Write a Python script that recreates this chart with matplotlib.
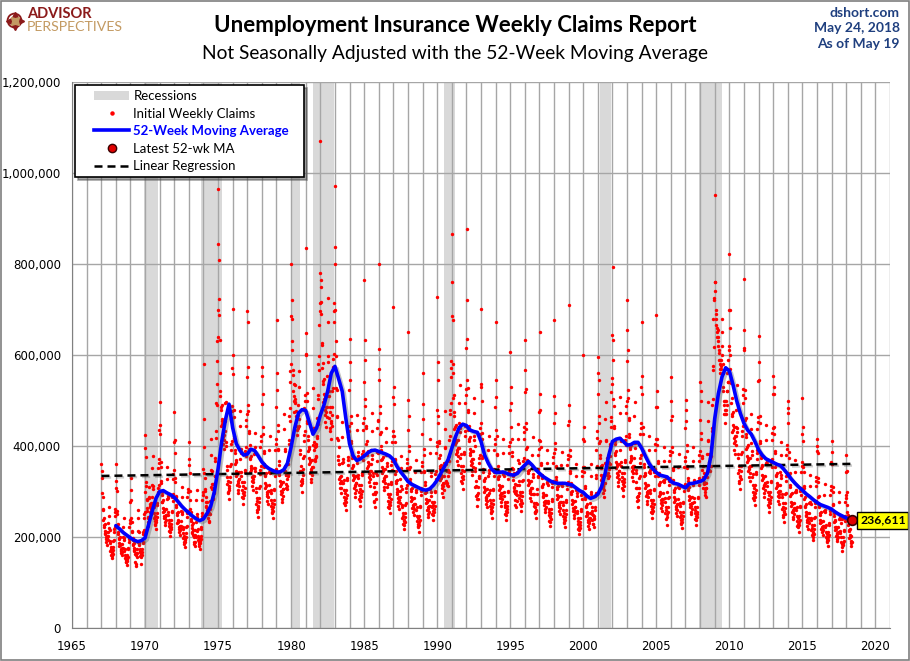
import numpy as np
import pandas as pd
import matplotlib
matplotlib.use('Agg')
import matplotlib.pyplot as plt
import matplotlib.patheffects as pe
from matplotlib.patches import Patch, Rectangle, Circle
from matplotlib.lines import Line2D
from matplotlib.legend_handler import HandlerLine2D, HandlerPatch
from matplotlib.ticker import FuncFormatter, MultipleLocator

# Initial weekly claims, not seasonally adjusted, thousands (one row per year, weeks from early Jan)
first_year = 1967
weekly_claims = [
    # 1967
    [360, 345, 330, 296, 287, 259, 261, 237, 242, 223, 226, 207, 214, 228, 209, 212, 195, 200, 188, 197, 183, 202, 193, 212, 202, 230,
     247, 267, 219, 215, 187, 191, 170, 178, 161, 174, 159, 166, 153, 168, 163, 178, 172, 191, 194, 217, 211, 247, 221, 256, 262, 307],
    # 1968
    [360, 324, 301, 258, 250, 226, 228, 207, 211, 195, 197, 180, 187, 199, 182, 185, 170, 174, 164, 172, 160, 176, 168, 185, 176, 201,
     223, 241, 198, 194, 169, 173, 153, 161, 146, 157, 144, 149, 138, 151, 147, 161, 155, 173, 175, 196, 190, 223, 200, 231, 237, 277],
    # 1969
    [330, 303, 282, 242, 234, 211, 213, 194, 198, 182, 184, 169, 175, 186, 171, 173, 146, 163, 140, 161, 136, 165, 157, 173, 165, 188,
     242, 260, 214, 210, 183, 187, 166, 174, 158, 170, 155, 162, 140, 164, 160, 174, 168, 187, 189, 212, 206, 242, 216, 250, 256, 300],
    # 1970
    [424, 395, 375, 321, 311, 281, 283, 258, 263, 242, 245, 224, 232, 310, 285, 288, 266, 272, 256, 269, 250, 275, 262, 288, 275, 314,
     351, 378, 311, 305, 265, 271, 241, 253, 229, 247, 226, 235, 217, 238, 232, 253, 244, 271, 275, 308, 299, 351, 314, 363, 372, 436],
    # 1971
    [497, 446, 426, 365, 354, 319, 322, 293, 299, 276, 278, 255, 264, 281, 258, 261, 241, 247, 232, 244, 226, 249, 238, 261, 249, 284,
     328, 353, 291, 285, 248, 254, 225, 237, 214, 231, 211, 219, 202, 222, 217, 237, 228, 254, 257, 288, 279, 328, 294, 339, 348, 408],
    # 1972
    [475, 414, 385, 330, 320, 288, 291, 265, 270, 249, 252, 231, 238, 254, 233, 236, 217, 223, 210, 220, 204, 225, 215, 236, 225, 257,
     288, 310, 255, 250, 218, 223, 198, 208, 188, 203, 185, 193, 178, 195, 190, 208, 200, 223, 225, 253, 245, 288, 258, 298, 305, 358],
    # 1973
    [408, 371, 340, 301, 281, 262, 255, 240, 236, 226, 219, 210, 208, 231, 204, 215, 190, 203, 185, 199, 180, 205, 190, 215, 199, 234,
     282, 304, 250, 245, 213, 218, 194, 203, 184, 198, 181, 189, 174, 191, 186, 203, 196, 218, 221, 247, 240, 282, 252, 292, 299, 350],
    # 1974
    [580, 460, 397, 340, 329, 302, 305, 278, 288, 266, 269, 251, 259, 276, 258, 261, 241, 251, 236, 252, 234, 262, 250, 279, 267, 309,
     380, 415, 347, 345, 305, 316, 284, 307, 285, 316, 296, 316, 298, 335, 334, 374, 368, 418, 432, 495, 490, 587, 536, 631, 640, 700],
    # 1975
    [964, 845, 809, 724, 688, 633, 561, 510, 520, 480, 485, 444, 460, 490, 449, 455, 419, 429, 404, 424, 394, 434, 414, 455, 434, 495,
     460, 496, 408, 400, 348, 356, 316, 332, 300, 324, 296, 308, 284, 312, 304, 332, 320, 356, 360, 404, 392, 460, 412, 476, 488, 572],
    # 1976
    [702, 600, 559, 479, 464, 418, 422, 384, 391, 361, 365, 334, 346, 369, 338, 342, 315, 323, 304, 319, 296, 327, 312, 342, 327, 372,
     443, 477, 393, 385, 335, 343, 304, 320, 289, 312, 285, 296, 273, 300, 293, 320, 308, 343, 347, 389, 377, 443, 397, 458, 470, 551],
    # 1977
    [697, 672, 573, 491, 476, 429, 433, 394, 402, 371, 374, 343, 355, 378, 347, 351, 324, 332, 312, 328, 304, 335, 320, 351, 335, 382,
     397, 428, 352, 345, 300, 307, 273, 286, 259, 279, 255, 266, 245, 269, 262, 286, 276, 307, 311, 348, 338, 397, 355, 411, 421, 493],
    # 1978
    [574, 553, 515, 441, 427, 385, 389, 354, 361, 333, 336, 308, 319, 340, 312, 315, 291, 298, 280, 294, 273, 301, 287, 315, 301, 343,
     391, 422, 347, 340, 296, 303, 269, 282, 255, 275, 252, 262, 241, 265, 258, 282, 272, 303, 306, 343, 333, 391, 350, 405, 415, 486],
    # 1979
    [677, 561, 522, 447, 433, 391, 394, 359, 366, 337, 341, 312, 323, 344, 316, 320, 295, 302, 284, 298, 277, 305, 291, 320, 305, 348,
     437, 471, 393, 390, 344, 356, 316, 336, 308, 336, 311, 327, 305, 339, 334, 369, 360, 405, 414, 465, 456, 541, 484, 565, 580, 686],
    # 1980
    [800, 720, 680, 630, 610, 556, 566, 520, 536, 499, 509, 475, 496, 534, 494, 504, 465, 476, 444, 462, 425, 464, 435, 468, 439, 490,
     529, 564, 459, 445, 383, 392, 344, 357, 323, 344, 315, 323, 298, 328, 319, 349, 336, 374, 378, 424, 412, 483, 433, 500, 512, 601],
    # 1981
    [836, 648, 603, 517, 500, 451, 455, 414, 422, 390, 394, 361, 373, 398, 365, 369, 340, 349, 328, 344, 320, 353, 336, 369, 353, 402,
     483, 527, 439, 440, 392, 409, 371, 398, 368, 405, 377, 400, 376, 421, 418, 461, 448, 503, 513, 581, 568, 667, 597, 696, 714, 780],
    # 1982
    [1070, 765, 750, 716, 690, 622, 627, 571, 582, 537, 542, 497, 514, 548, 503, 509, 469, 480, 452, 475, 441, 486, 463, 509, 486, 554,
     673, 725, 597, 585, 509, 521, 462, 486, 439, 474, 433, 450, 415, 456, 445, 486, 468, 521, 527, 591, 573, 673, 603, 696, 714, 837],
    # 1983
    [971, 800, 700, 630, 598, 528, 522, 465, 464, 418, 413, 370, 378, 398, 360, 360, 328, 332, 308, 319, 296, 323, 308, 333, 318, 363,
     420, 453, 372, 365, 318, 325, 288, 303, 274, 296, 270, 281, 259, 285, 277, 303, 292, 325, 329, 369, 358, 420, 376, 434, 445, 522],
    # 1984
    [636, 585, 544, 466, 451, 407, 411, 374, 381, 352, 355, 326, 337, 359, 329, 333, 307, 315, 296, 311, 289, 318, 303, 333, 318, 363,
     435, 469, 386, 378, 329, 336, 299, 314, 284, 306, 280, 291, 268, 295, 287, 314, 302, 336, 340, 382, 370, 435, 389, 450, 461, 541],
    # 1985
    [765, 632, 588, 504, 488, 440, 444, 404, 412, 380, 384, 352, 364, 388, 356, 360, 332, 340, 320, 336, 312, 344, 328, 360, 344, 392,
     432, 472, 380, 372, 333, 340, 295, 318, 280, 310, 276, 295, 265, 298, 283, 318, 298, 340, 336, 386, 366, 440, 385, 455, 458, 545],
    # 1986
    [800, 613, 570, 489, 473, 427, 431, 392, 400, 369, 372, 341, 353, 376, 345, 349, 322, 330, 310, 326, 303, 334, 318, 349, 334, 380,
     408, 440, 362, 355, 309, 316, 280, 295, 266, 288, 263, 273, 252, 277, 270, 295, 284, 316, 320, 359, 348, 408, 366, 422, 433, 508],
    # 1987
    [705, 529, 492, 422, 409, 369, 372, 338, 345, 318, 322, 295, 305, 325, 298, 302, 278, 285, 268, 281, 261, 288, 275, 302, 288, 328,
     351, 378, 311, 305, 265, 271, 241, 253, 229, 247, 226, 235, 217, 238, 232, 253, 244, 271, 275, 308, 299, 351, 314, 363, 372, 436],
    # 1988
    [650, 502, 467, 401, 388, 350, 353, 321, 328, 302, 305, 280, 289, 308, 283, 286, 264, 270, 254, 267, 248, 273, 261, 286, 273, 312,
     343, 370, 304, 298, 259, 265, 235, 247, 224, 241, 221, 229, 212, 232, 226, 247, 238, 265, 268, 301, 292, 343, 307, 355, 364, 426],
    # 1989
    [560, 493, 459, 393, 381, 343, 346, 315, 321, 296, 300, 275, 284, 303, 278, 281, 259, 265, 250, 262, 243, 268, 256, 281, 268, 306,
     385, 415, 342, 335, 291, 298, 265, 278, 251, 271, 248, 258, 238, 261, 255, 278, 268, 298, 302, 338, 328, 385, 345, 399, 409, 479],
    # 1990
    [728, 585, 544, 466, 451, 407, 411, 374, 381, 352, 355, 326, 337, 359, 329, 333, 307, 315, 296, 311, 289, 318, 303, 333, 318, 363,
     437, 477, 398, 395, 348, 360, 324, 344, 315, 344, 318, 335, 312, 347, 342, 378, 368, 414, 423, 480, 470, 552, 494, 571, 586, 686],
    # 1991
    [867, 760, 676, 580, 561, 506, 511, 465, 474, 437, 442, 405, 419, 446, 409, 414, 382, 391, 368, 386, 359, 396, 377, 414, 396, 451,
     495, 533, 439, 430, 374, 383, 340, 357, 323, 348, 318, 331, 305, 335, 327, 357, 344, 383, 387, 434, 421, 495, 443, 512, 525, 615],
    # 1992
    [877, 720, 635, 544, 527, 475, 480, 436, 445, 410, 415, 380, 393, 419, 384, 389, 359, 367, 346, 363, 337, 372, 354, 389, 372, 423,
     472, 506, 413, 400, 346, 352, 310, 324, 291, 312, 283, 293, 268, 293, 284, 309, 296, 329, 333, 374, 363, 426, 381, 440, 451, 529],
    # 1993
    [701, 537, 500, 428, 415, 374, 377, 343, 350, 323, 326, 299, 309, 330, 303, 306, 282, 289, 272, 286, 265, 292, 279, 306, 292, 333,
     391, 422, 347, 340, 296, 303, 269, 282, 255, 275, 252, 262, 241, 265, 258, 282, 272, 303, 306, 343, 333, 391, 350, 405, 415, 486],
    # 1994
    [672, 545, 507, 435, 421, 380, 383, 348, 355, 328, 331, 304, 314, 335, 307, 311, 286, 293, 276, 290, 269, 297, 283, 311, 297, 338,
     385, 415, 342, 335, 291, 298, 265, 278, 251, 271, 248, 258, 238, 261, 255, 278, 268, 298, 302, 338, 328, 385, 345, 399, 409, 479],
    # 1995
    [607, 530, 495, 441, 415, 386, 377, 352, 349, 333, 325, 309, 308, 340, 301, 316, 281, 297, 271, 294, 265, 301, 279, 315, 292, 342,
     416, 449, 369, 362, 315, 322, 286, 300, 272, 293, 268, 279, 257, 282, 275, 300, 290, 322, 326, 366, 355, 416, 373, 431, 442, 518],
    # 1996
    [633, 566, 526, 451, 437, 394, 397, 362, 369, 340, 344, 315, 326, 347, 319, 322, 297, 304, 286, 301, 279, 308, 294, 322, 308, 351,
     380, 420, 338, 331, 295, 294, 269, 274, 255, 267, 252, 254, 242, 257, 259, 274, 272, 294, 306, 334, 332, 380, 349, 394, 413, 474],
    # 1997
    [650, 515, 479, 411, 398, 359, 362, 329, 336, 310, 313, 287, 297, 316, 290, 293, 271, 277, 261, 274, 254, 280, 267, 293, 280, 319,
     362, 391, 321, 315, 274, 280, 249, 261, 236, 255, 233, 243, 224, 246, 239, 261, 252, 280, 284, 318, 309, 362, 324, 375, 384, 450],
    # 1998
    [676, 509, 473, 406, 393, 354, 357, 325, 332, 306, 309, 283, 293, 312, 287, 290, 267, 274, 258, 270, 251, 277, 264, 290, 277, 316,
     359, 387, 318, 312, 271, 278, 246, 259, 234, 253, 231, 240, 222, 243, 237, 259, 250, 278, 281, 315, 306, 359, 321, 371, 381, 446],
    # 1999
    [709, 490, 456, 391, 378, 341, 344, 313, 319, 295, 298, 273, 282, 301, 276, 279, 257, 264, 248, 260, 242, 267, 254, 279, 267, 304,
     334, 360, 296, 290, 252, 258, 229, 241, 218, 235, 215, 223, 206, 226, 220, 241, 232, 258, 261, 293, 284, 334, 299, 345, 354, 415],
    # 2000
    [601, 442, 412, 353, 342, 308, 311, 283, 288, 266, 269, 246, 255, 272, 249, 252, 232, 238, 224, 235, 218, 241, 230, 252, 241, 274,
     334, 360, 298, 294, 258, 265, 237, 251, 228, 248, 228, 239, 222, 246, 242, 266, 259, 291, 297, 336, 329, 391, 355, 417, 433, 515],
    # 2001
    [596, 560, 544, 466, 451, 407, 411, 374, 381, 352, 355, 326, 337, 359, 329, 333, 307, 315, 296, 311, 289, 318, 303, 333, 318, 363,
     460, 496, 413, 410, 361, 374, 336, 357, 330, 365, 340, 362, 334, 363, 350, 378, 360, 401, 405, 455, 441, 518, 464, 536, 549, 644],
    # 2002
    [794, 632, 588, 504, 488, 440, 444, 404, 412, 380, 384, 352, 364, 388, 356, 360, 332, 340, 320, 336, 312, 344, 328, 360, 344, 392,
     472, 508, 418, 410, 357, 365, 324, 340, 308, 332, 303, 316, 291, 320, 312, 340, 328, 365, 369, 414, 402, 472, 422, 488, 500, 586],
    # 2003
    [721, 656, 610, 523, 506, 457, 461, 419, 427, 394, 398, 365, 378, 403, 369, 374, 344, 353, 332, 349, 324, 357, 340, 374, 357, 407,
     466, 496, 406, 395, 341, 347, 307, 320, 287, 308, 280, 290, 266, 290, 281, 307, 296, 329, 333, 374, 363, 426, 381, 440, 451, 529],
    # 2004
    [673, 553, 515, 441, 427, 385, 389, 354, 361, 333, 336, 308, 319, 340, 312, 315, 291, 298, 280, 294, 273, 301, 287, 315, 301, 343,
     391, 422, 347, 340, 296, 303, 269, 282, 255, 275, 252, 262, 241, 265, 258, 282, 272, 303, 306, 343, 333, 391, 350, 405, 415, 486],
    # 2005
    [689, 521, 485, 416, 403, 363, 366, 333, 340, 314, 317, 290, 300, 320, 294, 297, 274, 281, 264, 277, 257, 284, 271, 297, 284, 323,
     368, 397, 326, 320, 278, 285, 253, 266, 240, 259, 330, 300, 227, 250, 243, 266, 256, 285, 288, 323, 314, 368, 330, 381, 390, 458],
    # 2006
    [551, 499, 465, 398, 386, 348, 351, 319, 325, 300, 303, 278, 288, 307, 281, 284, 262, 269, 253, 265, 246, 272, 259, 284, 272, 310,
     354, 382, 314, 308, 268, 274, 243, 256, 231, 249, 228, 237, 219, 240, 234, 256, 246, 274, 277, 311, 302, 354, 317, 367, 376, 440],
    # 2007
    [501, 480, 455, 403, 390, 352, 355, 323, 330, 304, 307, 282, 291, 310, 285, 288, 266, 272, 256, 269, 250, 275, 262, 288, 275, 314,
     368, 397, 326, 320, 278, 285, 253, 266, 240, 259, 237, 246, 227, 250, 243, 266, 256, 285, 288, 323, 314, 368, 330, 381, 390, 458],
    # 2008
    [541, 520, 500, 428, 415, 374, 377, 348, 355, 328, 331, 308, 319, 340, 316, 320, 299, 306, 292, 307, 289, 318, 308, 342, 331, 382,
     454, 496, 413, 410, 365, 383, 348, 374, 345, 381, 355, 377, 355, 398, 395, 440, 432, 490, 504, 576, 568, 679, 618, 726, 720, 760],
    # 2009
    [951, 760, 740, 700, 690, 680, 665, 650, 640, 660, 640, 630, 620, 655, 610, 605, 590, 590, 570, 580, 560, 570, 575, 590, 600, 620,
     680, 650, 580, 560, 530, 520, 490, 500, 470, 500, 470, 480, 450, 480, 470, 500, 490, 520, 520, 560, 540, 590, 540, 610, 620, 700],
    # 2010
    [821, 700, 660, 600, 570, 539, 544, 495, 505, 466, 470, 431, 446, 475, 436, 441, 407, 417, 392, 412, 382, 421, 402, 441, 421, 480,
     495, 533, 439, 430, 374, 383, 340, 357, 323, 348, 318, 331, 305, 335, 327, 357, 344, 383, 387, 434, 421, 495, 443, 512, 525, 615],
    # 2011
    [768, 656, 610, 523, 506, 457, 461, 419, 427, 394, 398, 365, 378, 403, 369, 374, 344, 353, 332, 349, 324, 357, 340, 374, 357, 407,
     437, 471, 388, 380, 331, 338, 300, 315, 285, 308, 281, 293, 270, 296, 289, 315, 304, 338, 342, 384, 372, 437, 391, 452, 464, 543],
    # 2012
    [642, 585, 544, 466, 451, 407, 411, 374, 381, 352, 355, 326, 337, 359, 329, 333, 307, 315, 296, 311, 289, 318, 303, 333, 318, 363,
     414, 446, 367, 360, 313, 320, 284, 299, 270, 292, 266, 277, 256, 281, 274, 299, 288, 320, 324, 364, 353, 414, 371, 428, 439, 515],
    # 2013
    [554, 530, 515, 441, 427, 385, 389, 354, 361, 333, 336, 308, 319, 340, 312, 315, 291, 298, 280, 294, 273, 301, 287, 315, 301, 343,
     380, 409, 337, 330, 287, 294, 261, 274, 248, 267, 244, 254, 234, 257, 251, 274, 264, 294, 297, 333, 323, 380, 340, 393, 403, 472],
    # 2014
    [500, 483, 450, 386, 373, 337, 340, 309, 315, 291, 294, 269, 278, 297, 272, 275, 254, 260, 245, 257, 239, 263, 251, 275, 263, 300,
     343, 370, 304, 298, 259, 265, 235, 247, 224, 241, 221, 229, 212, 232, 226, 247, 238, 265, 268, 301, 292, 343, 307, 355, 364, 426],
    # 2015
    [505, 442, 412, 353, 342, 308, 311, 283, 288, 266, 269, 246, 255, 272, 249, 252, 232, 238, 224, 235, 218, 241, 230, 252, 241, 274,
     313, 337, 277, 272, 237, 242, 215, 226, 204, 220, 201, 209, 193, 212, 207, 226, 218, 242, 245, 275, 267, 313, 280, 324, 332, 389],
    # 2016
    [415, 400, 385, 330, 320, 288, 291, 265, 270, 249, 252, 231, 238, 254, 233, 236, 217, 223, 210, 220, 204, 225, 215, 236, 225, 257,
     293, 316, 260, 255, 222, 227, 201, 212, 191, 207, 189, 196, 181, 199, 194, 212, 204, 227, 230, 258, 250, 293, 263, 303, 311, 365],
    # 2017
    [410, 387, 360, 309, 299, 270, 272, 247, 252, 233, 235, 216, 223, 238, 218, 221, 203, 208, 196, 206, 191, 211, 201, 221, 211, 240,
     276, 298, 245, 240, 209, 214, 190, 199, 230, 240, 178, 185, 170, 187, 182, 199, 192, 214, 216, 242, 235, 276, 247, 286, 293, 343],
    # 2018 (to May 19)
    [380, 345, 300, 270, 255, 248, 240, 227, 232, 214, 216, 198, 205, 218, 200, 203, 187, 191, 180, 189],
]

# 52-week moving average, thousands, read quarterly from 1968.0
ma_start = 1968.0
ma_values = [
    225, 218, 210, 204,  198, 193, 190, 192,  198, 228, 258, 285,  300, 302, 297, 293,   # 1968-71
    287, 278, 268, 260,  253, 246, 240, 236,  240, 252, 268, 300,  350, 410, 457, 492,   # 1972-75
    440, 405, 390, 380,  382, 393, 390, 378,  365, 356, 350, 346,  343, 343, 348, 362,   # 1976-79
    398, 440, 472, 480,  478, 452, 426, 440,  468, 490, 520, 560,  575, 548, 520, 460,   # 1980-83
    405, 378, 368, 372,  378, 385, 390, 391,  388, 385, 382, 378,  370, 355, 343, 333,   # 1984-87
    322, 316, 312, 308,  304, 303, 306, 314,  325, 340, 355, 370,  395, 420, 440, 448,   # 1988-91
    445, 435, 432, 430,  410, 380, 362, 348,  342, 342, 343, 340,  337, 336, 340, 350,   # 1992-95
    358, 366, 358, 348,  340, 333, 328, 323,  320, 318, 318, 318,  316, 314, 308, 302,   # 1996-99
    298, 290, 285, 288,  294, 310, 340, 380,  410, 415, 417, 410,  402, 403, 408, 408,   # 2000-03
    395, 378, 362, 350,  342, 336, 334, 332,  322, 318, 316, 312,  308, 317, 318, 320,   # 2004-07
    322, 326, 340, 380,  460, 515, 552, 572,  565, 535, 500, 472,  450, 435, 426, 410,   # 2008-11
    392, 380, 372, 368,  364, 360, 357, 348,  338, 327, 318, 310,  303, 295, 289, 282,   # 2012-15
    276, 271, 268, 265,  261, 255, 250, 246,  242, 238,                                  # 2016-18
]
latest_ma = 236611
latest_date = '2018-05-19'

recession_starts = ['1969-12', '1973-11', '1980-01', '1981-07', '1990-07', '2001-03', '2007-12']
recession_ends = ['1970-11', '1975-03', '1980-07', '1982-11', '1991-03', '2001-11', '2009-06']


def toDecimalYear(dates):
    dates = pd.DatetimeIndex(dates)
    return np.asarray(dates.year + (dates.dayofyear - 1) / 365.25)


# Weekly points
claimX, claimY = [], []
for i, row in enumerate(weekly_claims):
    year = first_year + i
    weeks = pd.date_range(f'{year}-01-01', periods=len(row), freq='W-SAT')
    claimX.extend(toDecimalYear(weeks))
    claimY.extend(np.array(row) * 1000.0)
claimX = np.array(claimX)
claimY = np.array(claimY)

# Moving average line
maX = ma_start + 0.25 * np.arange(len(ma_values))
maY = np.array(ma_values) * 1000.0
maX = np.append(maX, toDecimalYear([latest_date])[0])
maY = np.append(maY, latest_ma)

# Linear regression through the weekly claims
slope, intercept = np.polyfit(claimX, claimY, 1)
regX = np.array([claimX[0], claimX[-1]])
regY = slope * regX + intercept

fig = plt.figure(figsize=(9.1, 6.61), dpi=100)
ax = fig.add_axes([72 / 910, 33 / 661, 818 / 910, 546 / 661])

for s, e in zip(recession_starts, recession_ends):
    start = toDecimalYear([pd.Timestamp(s)])[0]
    end = toDecimalYear([pd.Timestamp(e) + pd.offsets.MonthEnd(0)])[0]
    ax.axvspan(start, end, color='#D9D9D9', lw=0, zorder=0)

ax.scatter(claimX, claimY, s=6, c='#FF0000', marker='o', linewidths=0, zorder=3)

ax.plot(regX, regY, color='black', lw=1.8, dashes=(3.2, 2.0), zorder=4,
        path_effects=[pe.SimpleLineShadow(offset=(1.2, -1.2), alpha=0.3, shadow_color='#555555'), pe.Normal()])

ax.plot(maX, maY, color='#0000FF', lw=2.6, zorder=5, solid_capstyle='round',
        path_effects=[pe.SimpleLineShadow(offset=(1.5, -1.5), alpha=0.35, shadow_color='#555555'), pe.Normal()])

ax.plot(maX[-1], maY[-1], 'o', ms=7, mfc='#E00000', mec='#3A0000', mew=1.2, zorder=6)
ax.annotate(f'{latest_ma:,}', xy=(maX[-1], maY[-1]), xytext=(6, 0), textcoords='offset points',
            ha='left', va='center', fontsize=8.8, fontweight='bold', family='Lato', zorder=7,
            annotation_clip=False, clip_on=False,
            bbox=dict(boxstyle='square,pad=0.22', fc='#FFFF00', ec='black', lw=1))

ax.set_xlim(1965, 2021)
ax.set_ylim(0, 1200000)
ax.xaxis.set_major_locator(MultipleLocator(5))
ax.xaxis.set_minor_locator(MultipleLocator(1))
ax.yaxis.set_major_locator(MultipleLocator(200000))
ax.yaxis.set_major_formatter(FuncFormatter(lambda v, p: f'{int(v):,}'))
ax.xaxis.set_major_formatter(FuncFormatter(lambda v, p: f'{int(v)}'))
ax.set_axisbelow(True)
ax.grid(True, axis='x', which='both', color='#A6A6A6', lw=1)
ax.grid(True, axis='y', which='major', color='#A6A6A6', lw=1)
ax.tick_params(axis='both', which='both', length=0, labelsize=8.5)
ax.tick_params(axis='y', pad=8)
ax.tick_params(axis='x', pad=9)
for side in ['top', 'right']:
    ax.spines[side].set_visible(False)
for side in ['left', 'bottom']:
    ax.spines[side].set_color('#808080')

# Legend
handles = [
    Patch(facecolor='#D9D9D9', edgecolor='none'),
    Line2D([], [], marker='o', ls='none', color='#FF0000', ms=2.2),
    Line2D([], [], color='#0000FF', lw=2.6),
    Line2D([], [], marker='o', ls='none', mfc='#E00000', mec='#3A0000', ms=6),
    Line2D([], [], color='black', lw=1.8, dashes=(3.2, 2.0)),
]
labels = ['Recessions', 'Initial Weekly Claims', '52-Week Moving Average   ', 'Latest 52-wk MA', 'Linear Regression']
leg = ax.legend(handles, labels, loc='upper left', bbox_to_anchor=(0.004, 0.995), borderaxespad=0,
                frameon=True, fancybox=False, shadow=True, framealpha=1, edgecolor='black',
                prop={'family': 'Lato', 'size': 9.5}, handlelength=3.65, borderpad=0.4,
                labelspacing=0.42, handletextpad=0.35,
                handler_map={Line2D: HandlerLine2D(xpad=1.05), Patch: HandlerPatch(xpad=1.05)})
leg.get_frame().set_linewidth(1.2)
leg.set_zorder(10)
leg.get_texts()[2].set_color('#0000FF')
leg.get_texts()[2].set_fontweight('bold')

# Header
fig.text(0.5, 1 - 25 / 661, 'Unemployment Insurance Weekly Claims Report', ha='center', va='center',
         fontsize=16, fontweight='bold', family='Lato')
fig.text(0.5, 1 - 53 / 661, 'Not Seasonally Adjusted with the 52-Week Moving Average', ha='center', va='center',
         fontsize=13.8, family='Lato')
for yPix, txt in zip([13, 28.5, 44], ['dshort.com', 'May 24, 2018', 'As of May 19']):
    fig.text(900 / 910, 1 - yPix / 661, txt, ha='right', va='center', color='#1F3F7F',
             fontsize=10, fontweight='bold', family='Lato')

# Logo
fig.text(27 / 910, 1 - 14 / 661, 'ADVISOR', ha='left', va='center', color='#8B1A1A',
         fontsize=10.5, fontweight='bold', family='Lato')
fig.text(27 / 910, 1 - 27 / 661, 'PERSPECTIVES', ha='left', va='center', color='#C39A62',
         fontsize=10.2, family='Lato')
axLogo = fig.add_axes([5 / 910, 1 - 30 / 661, 19 / 910, 19 / 661])
axLogo.set_xlim(-1.1, 1.1)
axLogo.set_ylim(-1.1, 1.1)
axLogo.set_aspect('equal')
axLogo.axis('off')
axLogo.add_patch(Circle((0, 0), 0.8, fill=False, ec='#8B1A1A', lw=1.3))
axLogo.plot(0, 0, marker=(4, 1, 0), ms=13, color='#8B1A1A')
axLogo.plot(0, 0, marker=(4, 1, 45), ms=8, color='#C39A62')

fig.add_artist(Rectangle((0.001, 0.0015), 0.998, 0.997, transform=fig.transFigure,
                         fill=False, ec='#7F7F7F', lw=1.2))

fig.savefig('out.png', dpi=100)
